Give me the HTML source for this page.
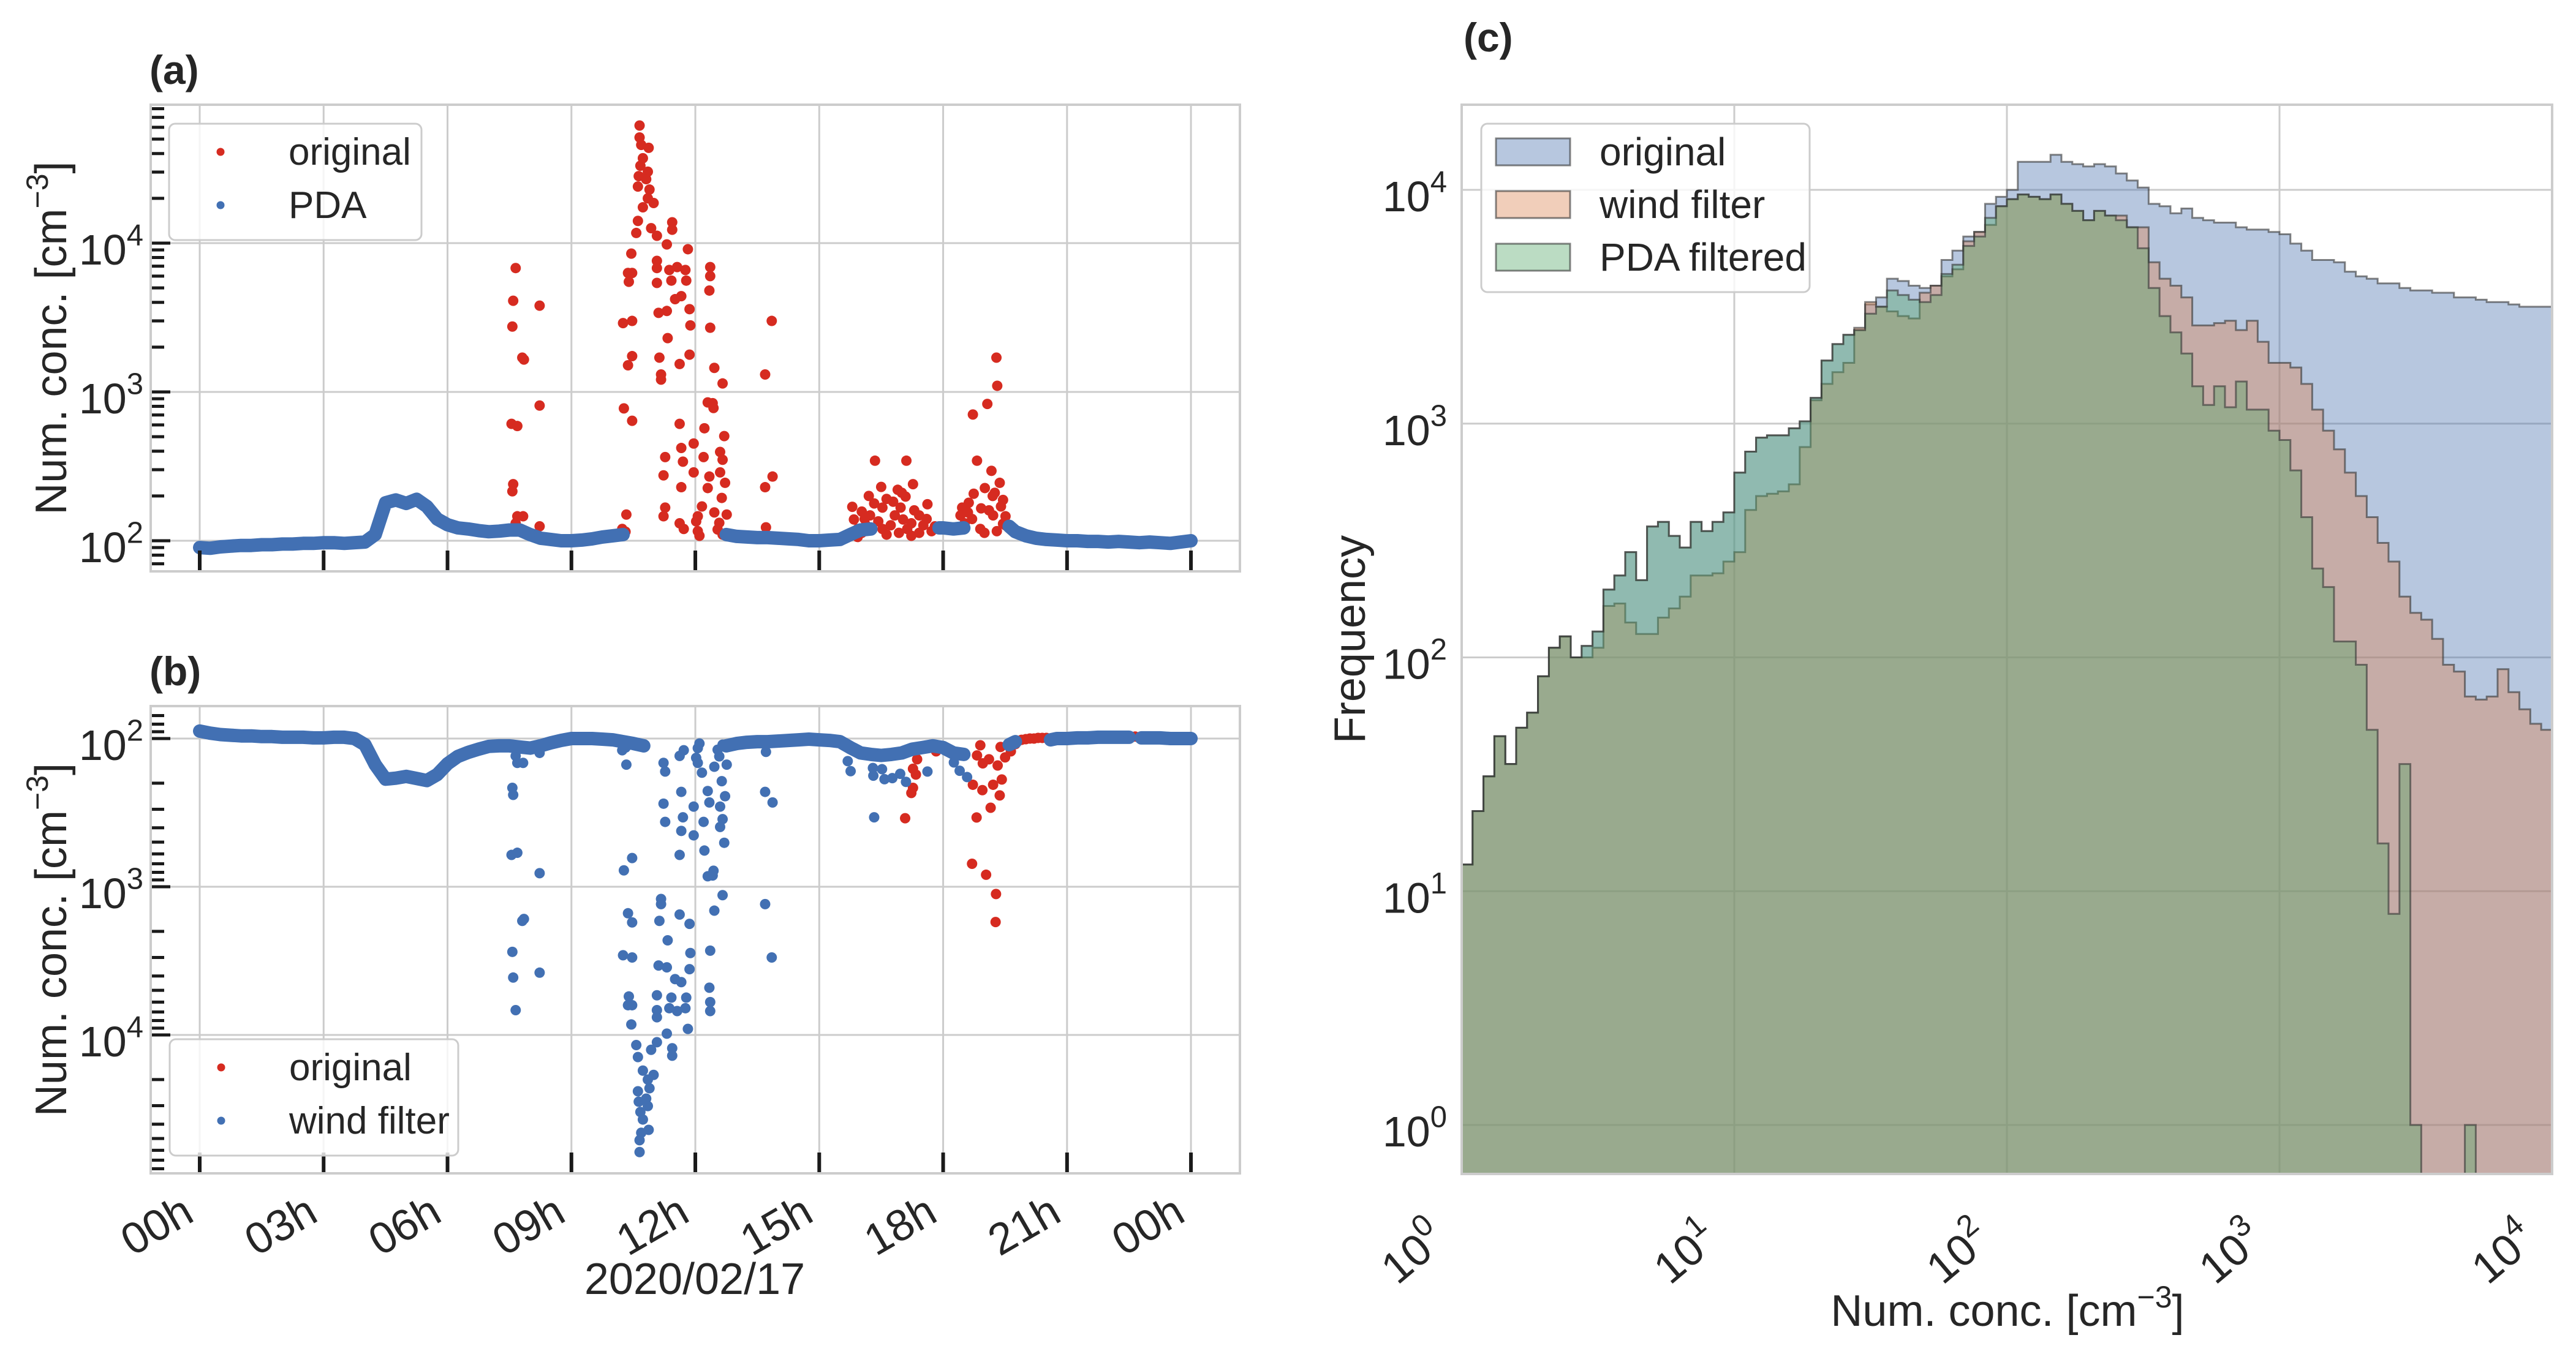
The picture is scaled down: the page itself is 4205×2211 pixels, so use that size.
<!DOCTYPE html>
<html><head><meta charset="utf-8"><style>
html,body{margin:0;padding:0;background:#fff;}
svg{display:block;font-family:"Liberation Sans",Arial,sans-serif;}
</style></head><body>
<svg id="fig" xmlns="http://www.w3.org/2000/svg" width="4205" height="2211" viewBox="0 0 4205 2211"></svg>
<script>
// ---------- DATA ----------
// Panel (a): PDA baseline
const baseAHours=[0,0.25,0.5,0.75,1,1.25,1.5,1.75,2,2.25,2.5,2.75,3,3.25,3.5,3.75,4,4.25,4.5,4.75,5,5.25,5.5,5.75,6,6.25,6.5,6.75,7,7.25,7.5,7.75,8,8.25,8.5,8.75,9,9.25,9.5,9.75,10,10.25,null,12.75,13,13.25,13.5,13.75,14,14.25,14.5,14.75,15,15.25,15.5,15.75,16,16.25,null,17.9,18.0,18.25,18.5,null,19.6,19.75,20,20.25,20.5,20.75,21,21.25,21.5,21.75,22,22.25,22.5,22.75,23,23.25,23.5,23.75,24];
const baseAConc=[90,89,91,92,93,93,94,94,95,95,96,96,97,97,96,97,98,110,180,188,178,190,170,140,128,122,120,117,115,116,118,118,110,104,102,100,100,101,103,106,108,110,null,110,107,106,105,105,104,103,102,100,100,101,102,110,118,120,null,122,122,120,122,null,125,115,108,104,102,101,100,100,99,99,98,99,98,97,98,97,96,98,100];
// Shared spikes (original in (a), wind filter in (b))
const spikeHours=[7.65,7.59,7.57,7.81,7.85,8.23,8.23,7.55,7.69,7.59,7.57,7.69,7.83,7.65,8.23,
10.65,10.65,10.69,10.87,10.73,10.67,10.63,10.85,10.81,10.61,10.89,10.85,10.99,10.73,10.61,10.93,10.57,11.07,11.44,11.44,11.31,11.82,10.45,11.07,10.47,11.07,11.37,11.56,11.76,10.37,10.39,11.07,11.42,11.78,12.36,12.36,11.66,11.51,12.34,11.86,11.31,11.11,10.25,10.47,11.88,12.36,11.33,10.47,11.13,11.86,11.62,10.37,12.46,11.17,11.17,12.66,12.30,12.42,12.44,10.27,10.47,11.62,12.22,12.70,11.96,11.66,12.60,11.27,12.20,11.70,12.66,11.96,12.60,11.23,12.34,11.66,12.72,12.30,12.64,12.16,11.27,12.46,12.76,10.33,12.06,11.23,12.02,11.62,12.58,10.23,10.31,12.06,11.72,12.54,12.10,12.66,
13.85,13.69,13.69,13.87,13.71];
const spikeConc=[6800,4100,2750,1700,1650,3800,810,610,590,240,215,146,146,131,125,
61700,51300,45700,43700,37200,33100,28200,30200,26900,24000,22900,20000,18600,17400,14100,12600,11700,11200,13800,12300,9800,9100,8500,7600,6300,6800,6600,6900,6600,6300,5500,5400,5600,5600,6900,6000,4400,4200,4800,3600,3500,3400,2900,3000,2800,2700,2300,1740,1700,1780,1540,1510,1450,1310,1210,1140,850,840,780,775,640,610,570,505,450,420,395,365,365,340,350,288,288,275,270,229,245,226,194,170,167,155,150,150,146,146,135,131,132,120,115,116,120,119,108,110,
3000,1310,229,270,123];
// Panel (a): original cluster 16-20h
const clusterHours=[16.35,17.11,17.27,17.09,16.63,16.79,16.97,16.33,17.62,15.80,16.53,16.03,16.23,16.83,17.42,15.84,17.03,16.43,17.23,16.13,16.73,17.52,15.93,16.53,17.13,17.72,16.03,16.93,17.42,15.93,16.63,17.23,16.2,16.9,17.3,17.0,16.5,17.6,16.1,17.8,
19.29,19.31,19.07,18.72,18.82,19.17,19.37,19.01,18.74,19.25,18.62,19.45,18.46,18.92,19.11,18.42,19.21,19.51,18.52,19.51,18.9,19.3,19.0,18.7,19.4,18.6,19.2,19.45];
const clusterConc=[345,345,240,198,191,183,167,178,176,169,167,157,148,148,148,139,139,135,131,127,127,127,120,120,120,116,113,113,113,106,110,108,200,220,160,210,230,140,140,125,
1700,1100,830,705,345,295,245,226,207,210,180,188,167,165,160,148,148,146,131,127,120,116,113,140,170,155,200,130];
// Panel (b): wind filter baseline
const baseBHours=[0,0.25,0.5,0.75,1,1.25,1.5,1.75,2,2.25,2.5,2.75,3,3.25,3.5,3.75,4,4.25,4.5,4.75,5,5.25,5.5,5.75,6,6.25,6.5,6.75,7,7.25,7.5,7.75,8,8.25,8.5,8.75,9,9.25,9.5,9.75,10,10.25,10.5,10.75,null,12.75,13,13.25,13.5,13.75,14,14.25,14.5,14.75,15,15.25,15.5,15.75,16,16.25,16.5,16.75,17,17.25,17.5,17.75,18,18.25,18.5,null,19.6,19.75,null,20.6,20.75,21,21.25,21.5,21.75,22,22.25,22.5,null,22.8,23,23.25,23.5,23.75,24];
const baseBConc=[89,92,94,95,96,96,97,97,98,98,98,99,99,98,98,100,110,150,188,185,180,186,192,175,148,132,124,118,113,112,112,114,116,112,107,103,100,100,100,101,102,105,108,112,null,112,108,106,105,105,104,103,102,101,102,103,105,115,125,128,130,128,125,118,115,112,115,125,128,null,110,105,null,102,100,100,99,99,98,98,98,98,null,99,99,99,100,100,100];
// Panel (b): wind-filter scatter in 15-19h
const windScatterHours=[15.69,15.76,16.31,16.3,16.58,16.77,17.1,16.96,16.52,16.33,17.62,18.4,18.58,18.26];
const windScatterConc=[142,166,178,158,188,185,196,173,161,340,167,165,182,145];
// Panel (b): original (removed by wind filter)
const removedHours=[17.08,17.23,17.27,17.34,17.27,18.72,18.95,19.21,19.37,19.15,18.81,18.7,19.04,19.28,19.27,19.42,19.32,18.96,18.82,18.9,19.39,19.11,19.5,19.64,19.75,17.41,17.76,17.83,17.37,19.9,20.0,20.1,20.2,20.3,20.4,20.5,22.55,22.65];
const removedConc=[345,233,215,175,160,205,223,205,242,293,341,700,830,1120,1730,189,152,147,130,111,114,138,134,122,109,114,110,122,138,102,101,100,100,99,99,99,97,97];
// Panel (c): histogram counts, 100 log-spaced bins from 10^0 to 10^4
const histLogMin=0, histLogMax=4;
const countsOriginal=[13,22,31,46,35,50,58,83,110,123,100,112,129,195,224,282,214,363,380,331,295,380,347,380,417,
617,759,871,891,891,955,1023,1288,1862,2188,2399,2512,3236,3467,4169,4074,3890,3802,3890,5012,5495,6310,6607,8710,9333,
10000,13183,13183,13183,14125,13183,12882,12589,12882,12589,11749,10965,10233,8710,8511,7943,8318,7586,7413,7244,7244,6918,6761,6761,6607,
6457,5888,5495,5012,5012,4898,4467,4266,4169,3981,3981,3802,3715,3715,3631,3631,3467,3467,3388,3311,3311,3236,3162,3162,3162];
const countsWind=[13,22,31,46,35,50,58,83,110,123,100,100,110,166,170,141,126,126,148,162,182,224,224,229,257,
282,427,490,501,513,550,794,1259,1479,1660,1820,2570,3311,3162,3020,2884,2818,3631,3890,4266,4571,6026,6607,7079,8511,
9120,9550,9333,9120,9550,8710,8128,7413,8128,7762,7762,6918,6918,4898,4169,3890,3467,2630,2630,2692,2754,2512,2754,2239,1820,
1820,1738,1479,1148,933,776,617,490,398,309,257,182,155,145,120,93,87,68,66,68,89,71,60,52,49];
const countsPDA=[13,22,31,46,35,50,58,83,110,123,100,112,129,195,224,282,214,363,380,331,295,380,347,380,417,
617,759,871,891,891,955,1023,1288,1862,2188,2399,2512,2951,3162,3715,3548,3388,3311,3548,4365,4786,5754,6310,7586,8511,
9120,9550,9333,9120,9550,8710,8128,7413,8128,7762,7413,6918,5623,3802,2884,2455,1995,1445,1202,1445,1175,1514,1148,1148,933,
851,631,398,240,200,117,117,93,49,16,8,35,1,0,0,0,0,1,0,0,0,0,0,0,0];
const timeTicks=[0,3,6,9,12,15,18,21,24];
const timeTickLabels=["00h","03h","06h","09h","12h","15h","18h","21h","00h"];
const decadeTicksAB=[2,3,4];
const decadeTicksC=[0,1,2,3,4];

// ---------- HELPERS ----------
const NS="http://www.w3.org/2000/svg";
const svg=document.getElementById('fig');
function mk(tag,attrs,parent){const e=document.createElementNS(NS,tag);for(const k in attrs)e.setAttribute(k,attrs[k]);(parent||svg).appendChild(e);return e;}
const RED="#d62b20", BLUE="#4270b3", GRID="#cccccc";
const AX={l:246,r:2024};
const A={t:171,b:933}, B={t:1153,b:1916};
const xT=h=>326+h*67.42;
const yA=v=>883-(Math.log10(v)-2)*243;
const yB=v=>1206+(Math.log10(v)-2)*242;
const C={l:2386,r:4166,t:171,b:1917};
const xC=lv=>C.l+lv*445;
const yC=c=>1837-Math.log10(c)*381.75;

const defs=mk('defs',{});
[['clipA',A],['clipB',B]].forEach(([id,P])=>{const cp=mk('clipPath',{id:id},defs);mk('rect',{x:AX.l,y:P.t,width:AX.r-AX.l,height:P.b-P.t},cp);});
{const cp=mk('clipPath',{id:'clipC'},defs);mk('rect',{x:C.l,y:C.t,width:C.r-C.l,height:C.b-C.t},cp);}

function supLabel(parent,x,y,base,sup,size,anchor,rot){
  const t=mk('text',{x:x,y:y,'font-size':size,'text-anchor':anchor||'end',fill:'#262626'},parent);
  if(rot)t.setAttribute('transform','rotate('+rot+' '+x+' '+y+')');
  const s1=mk('tspan',{},t);s1.textContent=base;
  const s2=mk('tspan',{dy:-size*0.45,'font-size':size*0.7},t);s2.textContent=sup;
  return t;
}

function timePanel(P,yf,name){
  const g=mk('g',{});
  
  
  mk('rect',{x:AX.l,y:P.t,width:AX.r-AX.l,height:P.b-P.t,fill:'#fff'},g);
  timeTicks.forEach(h=>{const l=mk('line',{x1:xT(h),x2:xT(h),y1:P.t,y2:P.b,stroke:GRID,'stroke-width':3},g);
    
    });
  decadeTicksAB.forEach(d=>{const y=yf(Math.pow(10,d));const l=mk('line',{x1:AX.l,x2:AX.r,y1:y,y2:y,stroke:GRID,'stroke-width':3},g);
    
    });
  return g;
}
function ticksAB(P,yf,g,labels){
  for(let d=1;d<=5;d++){for(let m=1;m<=9;m++){const v=m*Math.pow(10,d);const y=yf(v);if(y<P.t+2||y>P.b-2)continue;
    const len=(m===1)?32:22;mk('line',{x1:AX.l,x2:AX.l+len,y1:y,y2:y,stroke:'#1a1a1a','stroke-width':5},g);}}
  decadeTicksAB.forEach(d=>{const y=yf(Math.pow(10,d));const t=supLabel(g,234,y+35,'10',String(d),70,'end');
    
    });
  timeTicks.forEach((h,i)=>{mk('line',{x1:xT(h),x2:xT(h),y1:P.b-2,y2:P.b-34,stroke:'#1a1a1a','stroke-width':6},g);
    if(labels){const ex=xT(h)-6,ey=1992;const t=mk('text',{x:ex,y:ey,'font-size':72,'text-anchor':'end',fill:'#262626',transform:'rotate(-30 '+ex+' '+ey+')'},g);
      t.textContent=timeTickLabels[i];
      
      }});
  const fr=mk('rect',{x:AX.l,y:P.t,width:AX.r-AX.l,height:P.b-P.t,fill:'none',stroke:GRID,'stroke-width':4},g);
  
  
}
function baseline(g,hours,conc,yf,color,name){
  const sg=mk('g',{'clip-path':g.clip},g.el);
  
  
  let d='',pen=false;
  for(let i=0;i<hours.length;i++){if(hours[i]===null){pen=false;continue;}
    const x=xT(hours[i]),y=yf(conc[i]);d+=(pen?'L':'M')+x.toFixed(1)+' '+y.toFixed(1)+' ';pen=true;}
  mk('path',{d:d,fill:'none',stroke:color,'stroke-width':22,'stroke-linejoin':'round','stroke-linecap':'round'},sg);
  for(let i=0;i<hours.length;i++){if(hours[i]===null)continue;
    const c=mk('circle',{cx:xT(hours[i]),cy:yf(conc[i]),r:10,fill:color},sg);
    
    }
}
function scatter(parent,clip,hours,conc,yf,color,name){
  const sg=mk('g',{'clip-path':clip},parent);
  
  
  for(let i=0;i<hours.length;i++){const c=mk('circle',{cx:xT(hours[i]),cy:yf(conc[i]),r:8.5,fill:color},sg);
    
    }
}
function legendAB(parent,x,y,w,h,items){
  const lg=mk('g',{},parent);
  
  
  mk('rect',{x:x,y:y,width:w,height:h,rx:10,fill:'#fff','fill-opacity':0.8,stroke:GRID,'stroke-width':3},lg);
  items.forEach((it,i)=>{const cy=y+46+i*87;
    const e=mk('g',{},lg);
    
    
    mk('circle',{cx:x+84,cy:cy,r:6.5,fill:it[1]},e);
    const t=mk('text',{x:x+195,y:cy+21,'font-size':62,fill:'#262626'},e);t.textContent=it[0];});
}

// Panel A
const gA=timePanel(A,yA,'panel-a');
scatter(gA,'url(#clipA)',spikeHours,spikeConc,yA,RED,'series-original-spikes');
scatter(gA,'url(#clipA)',clusterHours,clusterConc,yA,RED,'series-original-cluster');
baseline({el:gA,clip:'url(#clipA)'},baseAHours,baseAConc,yA,BLUE,'series-pda');
ticksAB(A,yA,gA,false);
legendAB(gA,276,202,412,190,[['original',RED],['PDA',BLUE]]);
{const t=mk('text',{x:244,y:137,'font-size':66,'font-weight':'bold',fill:'#262626'});t.textContent='(a)';

}

// Panel B
const gB=timePanel(B,yB,'panel-b');
scatter(gB,'url(#clipB)',removedHours,removedConc,yB,RED,'series-original');
scatter(gB,'url(#clipB)',spikeHours,spikeConc,yB,BLUE,'series-wind-filter-spikes');
scatter(gB,'url(#clipB)',windScatterHours,windScatterConc,yB,BLUE,'series-wind-filter-scatter');
baseline({el:gB,clip:'url(#clipB)'},baseBHours,baseBConc,yB,BLUE,'series-wind-filter');
ticksAB(B,yB,gB,true);
legendAB(gB,277,1697,471,190,[['original',RED],['wind filter',BLUE]]);
{const t=mk('text',{x:244,y:1119,'font-size':66,'font-weight':'bold',fill:'#262626'});t.textContent='(b)';

}

[[A,'y-axis-title-a'],[B,'y-axis-title-b']].forEach(([P,nm])=>{const cy=(P.t+P.b)/2;
  const t=mk('text',{x:108,y:cy,'font-size':72,'text-anchor':'middle',fill:'#262626',transform:'rotate(-90 108 '+cy+')'});
  
  
  const s1=mk('tspan',{},t);s1.textContent='Num. conc. [cm';
  const s2=mk('tspan',{dy:-30,'font-size':50},t);s2.textContent='\u22123';
  const s3=mk('tspan',{dy:30},t);s3.textContent=']';});
{const t=mk('text',{x:1134,y:2113,'font-size':72,'text-anchor':'middle',fill:'#262626'});t.textContent='2020/02/17';

}

// ---------- PANEL C ----------
const gC=mk('g',{});


mk('rect',{x:C.l,y:C.t,width:C.r-C.l,height:C.b-C.t,fill:'#fff'},gC);
decadeTicksC.forEach(d=>{const x=xC(d);const l=mk('line',{x1:x,x2:x,y1:C.t,y2:C.b,stroke:GRID,'stroke-width':3},gC);
  
  
  const y=yC(Math.pow(10,d));const l2=mk('line',{x1:C.l,x2:C.r,y1:y,y2:y,stroke:GRID,'stroke-width':3},gC);
  
  });
function hist(counts,color,name){
  const n=counts.length, w=(histLogMax-histLogMin)/n;
  let d='M'+xC(histLogMin)+' '+C.b+' ';
  for(let i=0;i<n;i++){const y=counts[i]>0?yC(counts[i]):C.b+5;
    d+='L'+xC(histLogMin+i*w).toFixed(1)+' '+y.toFixed(1)+' L'+xC(histLogMin+(i+1)*w).toFixed(1)+' '+y.toFixed(1)+' ';}
  d+='L'+xC(histLogMax)+' '+C.b+' Z';
  const p=mk('path',{d:d,fill:color,'fill-opacity':0.4,stroke:'#333','stroke-opacity':0.6,'stroke-width':3,'clip-path':'url(#clipC)'},gC);
  
  
}
hist(countsOriginal,'#4c72b0','hist-original');
hist(countsWind,'#dd8452','hist-wind-filter');
hist(countsPDA,'#55a868','hist-pda-filtered');
{const fr=mk('rect',{x:C.l,y:C.t,width:C.r-C.l,height:C.b-C.t,fill:'none',stroke:GRID,'stroke-width':4},gC);

}
decadeTicksC.forEach(d=>{const y=yC(Math.pow(10,d));const t=supLabel(gC,2362,y+35,'10',String(d),70,'end');
  
  
  const ex=xC(d)-22,ey=2030;const t2=supLabel(gC,ex,ey,'10',String(d),72,'end',-40);
  
  });
{const t=mk('text',{x:2228,y:(C.t+C.b)/2,'font-size':72,'text-anchor':'middle',fill:'#262626',transform:'rotate(-90 2228 '+((C.t+C.b)/2)+')'},gC);t.textContent='Frequency';

}
{const t=mk('text',{x:3277,y:2165,'font-size':72,'text-anchor':'middle',fill:'#262626'},gC);


const s1=mk('tspan',{},t);s1.textContent='Num. conc. [cm';
const s2=mk('tspan',{dy:-30,'font-size':50},t);s2.textContent='\u22123';
const s3=mk('tspan',{dy:30},t);s3.textContent=']';}
{const t=mk('text',{x:2389,y:84,'font-size':66,'font-weight':'bold',fill:'#262626'},gC);t.textContent='(c)';

}
{const lg=mk('g',{},gC);


mk('rect',{x:2418,y:202,width:536,height:275,rx:10,fill:'#fff','fill-opacity':0.8,stroke:GRID,'stroke-width':3},lg);
[['original','#4c72b0',248],['wind filter','#dd8452',334],['PDA filtered','#55a868',420]].forEach(it=>{
  const e=mk('g',{},lg);
  
  
  mk('rect',{x:2442,y:it[2]-22,width:121,height:44,fill:it[1],'fill-opacity':0.4,stroke:'#333','stroke-opacity':0.6,'stroke-width':3},e);
  const t=mk('text',{x:2611,y:it[2]+22,'font-size':64,fill:'#262626'},e);t.textContent=it[0];});}
</script>
</body></html>
